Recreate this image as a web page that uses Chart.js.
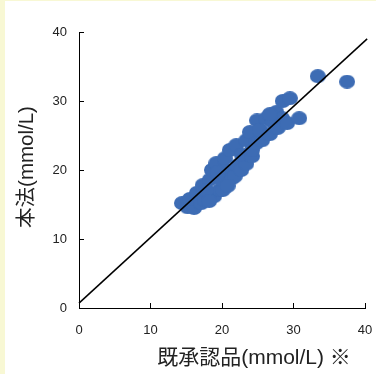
<!DOCTYPE html>
<html>
<head>
<meta charset="utf-8">
<script src="https://cdn.jsdelivr.net/npm/chart.js@4"></script>
<style>
  html, body { margin: 0; padding: 0; background: #fff; }
  #wrap { position: relative; width: 376px; height: 374px; }
</style>
</head>
<body>
<div id="wrap"><canvas id="chart" width="376" height="374"></canvas></div>
<script>
const approvedX = [
  14.4, 15.2, 16.1, 15.5, 16.5, 17.1, 17.6, 17.3, 18.3, 18.6,
  19.2, 18.5, 18.9, 19.7, 20.1, 20.0, 20.6, 20.4, 21.1, 21.4,
  21.8, 22.2, 22.7, 23.4, 22.0, 22.8, 23.4, 24.2, 24.2, 23.9,
  24.9, 24.8, 25.6, 25.3, 26.2, 26.7, 27.0, 27.6, 27.8, 28.4,
  28.5, 29.5, 29.1, 30.8, 33.4, 37.5, 19.4, 17.8, 18.2, 20.8,
  26.7
];
const methodY = [
  15.2, 14.6, 14.5, 15.8, 16.7, 15.2, 15.7, 17.8, 18.6, 20.0,
  21.0, 16.5, 16.2, 17.1, 17.1, 18.6, 20.0, 21.7, 22.9, 18.8,
  19.1, 20.7, 20.0, 20.9, 23.6, 22.2, 24.3, 22.0, 22.9, 25.5,
  27.2, 23.9, 24.3, 25.8, 27.5, 25.2, 27.0, 28.4, 26.1, 27.5,
  30.0, 30.4, 26.8, 27.5, 33.6, 32.8, 19.7, 17.1, 15.5, 17.7,
  28.1
];
// regression line end points
const fitX = [0, 40.3];
const fitY = [0.7, 39.0];

const xTicks = [0, 10, 20, 30, 40];
const yTicks = [0, 10, 20, 30, 40];

const X_TITLE = '既承認品(mmol/L) ※';
const Y_TITLE = '本法(mmol/L)';

const BLUE = '#3d6cb4';
const FONT = "'Liberation Sans', 'Noto Sans CJK JP', sans-serif";

// slightly flattened dot, like the original
const dot = document.createElement('canvas');
dot.width = 16; dot.height = 14;
(() => {
  const c = dot.getContext('2d');
  c.fillStyle = BLUE;
  c.beginPath();
  c.ellipse(8, 7, 8, 7, 0, 0, Math.PI * 2);
  c.fill();
})();

const frame = {
  id: 'frame',
  beforeDraw(chart) {
    const ctx = chart.ctx;
    ctx.save();
    ctx.fillStyle = '#f8f8d4';
    ctx.fillRect(0, 0, chart.width, chart.height);
    ctx.fillStyle = '#ffffff';
    ctx.fillRect(5, 1, chart.width - 5, chart.height - 1);
    ctx.restore();
  },
  afterDraw(chart) {
    const ctx = chart.ctx;
    ctx.save();
    ctx.fillStyle = '#222';
    ctx.textAlign = 'center';
    ctx.textBaseline = 'middle';
    ctx.font = '21px ' + FONT;
    ctx.fillText(X_TITLE, 254, 358);
    ctx.font = '20.5px ' + FONT;
    ctx.translate(27, 167);
    ctx.rotate(-Math.PI / 2);
    ctx.fillText(Y_TITLE, 0, 0);
    ctx.restore();
  }
};

const noPad = (s) => {
  s.paddingLeft = 0; s.paddingRight = 0;
  s.paddingTop = 0; s.paddingBottom = 0;
};

new Chart(document.getElementById('chart'), {
  data: {
    datasets: [
      {
        type: 'line',
        data: fitX.map((x, i) => ({ x, y: fitY[i] })),
        borderColor: '#000',
        borderWidth: 1.5,
        pointRadius: 0,
        clip: false,
        order: 0,
      },
      {
        type: 'scatter',
        data: approvedX.map((x, i) => ({ x, y: methodY[i] })),
        pointStyle: dot,
        pointRadius: 7,
        order: 1,
      },
    ],
  },
  options: {
    responsive: false,
    animation: false,
    layout: { padding: { top: 32, right: 11, left: 0, bottom: 0 } },
    plugins: { legend: { display: false }, tooltip: { enabled: false } },
    scales: {
      x: {
        type: 'linear',
        min: 0, max: 40,
        afterFit: (s) => { s.height = 66; noPad(s); },
        afterBuildTicks: (s) => { s.ticks = xTicks.map(v => ({ value: v })); },
        border: { display: true, color: '#000', width: 1 },
        grid: { drawOnChartArea: false, drawTicks: true, tickLength: -5, color: '#000' },
        ticks: { color: '#222', font: { family: FONT, size: 13 }, padding: 20, maxRotation: 0 },
      },
      y: {
        type: 'linear',
        min: 0, max: 40,
        afterFit: (s) => { s.width = 79; noPad(s); },
        afterBuildTicks: (s) => { s.ticks = yTicks.map(v => ({ value: v })); },
        border: { display: true, color: '#000', width: 1 },
        grid: { drawOnChartArea: false, drawTicks: true, tickLength: -5, color: '#000' },
        ticks: { color: '#222', font: { family: FONT, size: 13 }, padding: 17 },
      },
    },
  },
  plugins: [frame],
});
</script>
</body>
</html>
